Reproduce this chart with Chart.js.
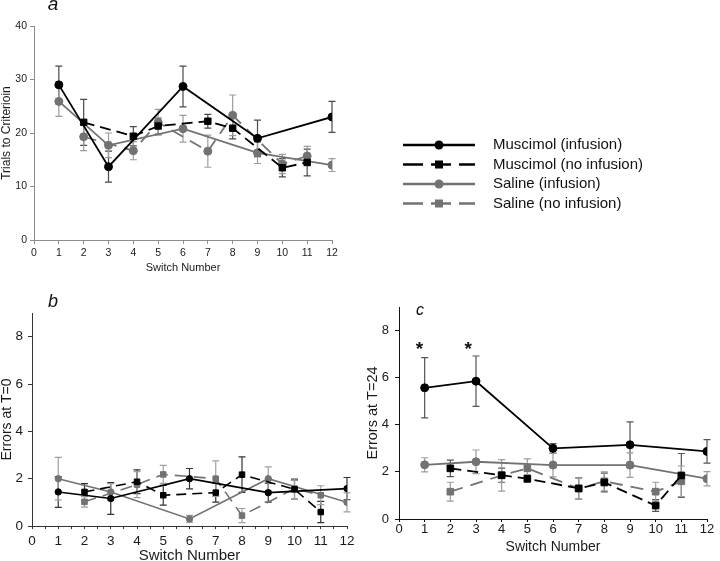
<!DOCTYPE html>
<html>
<head>
<meta charset="utf-8">
<script src="https://cdn.jsdelivr.net/npm/chart.js@4.4.1/dist/chart.umd.min.js"></script>
<style>
  body { margin: 0; background: #fff; }
  #wrap { position: relative; width: 720px; height: 561px; overflow: hidden; }
  canvas { position: absolute; }
</style>
</head>
<body>
<div id="wrap">
  <canvas id="chartA" width="720" height="290" style="left:0;top:0;width:720px;height:290px"></canvas>
  <canvas id="chartB" width="360" height="271" style="left:0;top:290px;width:360px;height:271px"></canvas>
  <canvas id="chartC" width="360" height="271" style="left:360px;top:290px;width:360px;height:271px"></canvas>
</div>
<script>
const FONT = "'Liberation Sans', Arial, sans-serif";

// switch numbers for each condition
const infusionSwitches = [1, 3, 6, 9, 12];
const noInfusionSwitches = [2, 4, 5, 7, 8, 10, 11];
const seriesNames = ['Muscimol (infusion)', 'Muscimol (no infusion)', 'Saline (infusion)', 'Saline (no infusion)'];

// panel a - trials to criterion (mean, sem)
const trialsMusInf = [29.0, 13.7, 28.7, 19.0, 23.0];
const trialsMusInfErr = [3.5, 2.9, 3.8, 3.4, 2.9];
const trialsMusNo = [22.0, 19.4, 21.3, 22.2, 20.9, 13.5, 14.5];
const trialsMusNoErr = [4.3, 1.8, 1.5, 1.3, 2.0, 1.7, 2.5];
const trialsSalInf = [25.9, 17.7, 20.8, 16.3, 14.0];
const trialsSalInfErr = [2.8, 2.3, 2.5, 2.0, 1.2];
const trialsSalNo = [19.3, 16.7, 22.0, 16.6, 23.3, 14.2, 15.7];
const trialsSalNoErr = [2.6, 1.7, 2.4, 3.0, 3.8, 1.8, 1.8];

// panel b - errors at T=0
const err0MusInf = [1.44, 1.16, 2.0, 1.41, 1.58];
const err0MusInfErr = [0.65, 0.67, 0.43, 0.4, 0.47];
const err0MusNo = [1.44, 1.87, 1.30, 1.41, 2.17, 1.55, 0.59];
const err0MusNoErr = [0.35, 0.5, 0.42, 0.4, 0.75, 0.4, 0.45];
const err0SalInf = [2.0, 1.44, 0.3, 2.0, 1.0];
const err0SalInfErr = [0.9, 0.35, 0.15, 0.5, 0.4];
const err0SalNo = [1.02, 1.75, 2.18, 2.0, 0.44, 1.58, 1.30];
const err0SalNoErr = [0.22, 0.55, 0.38, 0.75, 0.3, 0.42, 0.4];

// panel c - errors at T=24
const err24MusInf = [5.57, 5.85, 3.0, 3.15, 2.87];
const err24MusInfErr = [1.28, 1.07, 0.2, 0.97, 0.5];
const err24MusNo = [2.15, 1.86, 1.71, 1.3, 1.55, 0.57, 1.85];
const err24MusNoErr = [0.35, 0.3, 0.15, 0.45, 0.4, 0.25, 0.93];
const err24SalInf = [2.3, 2.43, 2.29, 2.29, 1.71];
const err24SalInfErr = [0.3, 0.5, 0.5, 0.52, 0.3];
const err24SalNo = [1.16, 1.85, 2.15, 1.29, 1.6, 1.16, 1.6];
const err24SalNoErr = [0.4, 0.67, 0.4, 0.45, 0.4, 0.4, 0.65];

// significance marks in panel c
const starSwitches = [0.8, 2.7];
const starLevel = 7.45;

const BLACK = '#000000';
const GRAY = '#727272';

function pts(xs, ys) {
  return xs.map((x, i) => ({ x: x, y: ys[i] }));
}

function series(label, xs, ys, errs, o) {
  return {
    label: label,
    data: pts(xs, ys),
    errors: errs,
    errColor: o.errColor,
    borderColor: o.color,
    backgroundColor: o.color,
    borderWidth: o.lw,
    borderDash: o.dash || [],
    pointStyle: o.shape,
    pointRadius: o.shape === 'rect' ? o.r * 1.3 : o.r,
    pointBorderWidth: 1,
    pointBorderColor: o.color,
    pointBackgroundColor: o.color,
    tension: 0
  };
}

// error bars drawn with the chart scales
const errorBars = {
  id: 'errorBars',
  beforeDatasetsDraw(chart) {
    const { ctx, scales: { x, y } } = chart;
    ctx.save();
    ctx.lineWidth = 1.2;
    chart.data.datasets.forEach(ds => {
      if (!ds.errors) return;
      ctx.strokeStyle = ds.errColor;
      ds.data.forEach((p, i) => {
        const e = ds.errors[i];
        const px = x.getPixelForValue(p.x);
        const top = y.getPixelForValue(p.y + e);
        const bot = y.getPixelForValue(p.y - e);
        ctx.beginPath();
        ctx.moveTo(px, top); ctx.lineTo(px, bot);
        ctx.moveTo(px - 3.5, top); ctx.lineTo(px + 3.5, top);
        ctx.moveTo(px - 3.5, bot); ctx.lineTo(px + 3.5, bot);
        ctx.stroke();
      });
    });
    ctx.restore();
  }
};

function panelLetter(letter, x, y, size) {
  return {
    id: 'letter' + letter,
    afterDraw(chart) {
      const ctx = chart.ctx;
      ctx.save();
      ctx.fillStyle = '#111';
      ctx.font = 'italic ' + size + 'px ' + FONT;
      ctx.textAlign = 'center';
      ctx.textBaseline = 'alphabetic';
      ctx.fillText(letter, x, y);
      ctx.restore();
    }
  };
}

const stars = {
  id: 'stars',
  afterDraw(chart) {
    const { ctx, scales: { x, y } } = chart;
    ctx.save();
    ctx.fillStyle = '#111';
    ctx.font = 'bold 19px ' + FONT;
    ctx.textAlign = 'center';
    ctx.textBaseline = 'alphabetic';
    starSwitches.forEach(s => {
      ctx.fillText('*', x.getPixelForValue(s), y.getPixelForValue(starLevel) + 11);
    });
    ctx.restore();
  }
};

// legend with line sample + marker, like the figure
const sideLegend = {
  id: 'sideLegend',
  afterDraw(chart) {
    const ctx = chart.ctx;
    const rows = [145, 164.5, 184, 203.5];
    const styles = [
      { color: BLACK, dash: [], shape: 'circle' },
      { color: BLACK, dash: [20, 8], shape: 'rect' },
      { color: GRAY, dash: [], shape: 'circle' },
      { color: GRAY, dash: [20, 8], shape: 'rect' }
    ];
    ctx.save();
    rows.forEach((ry, i) => {
      const st = styles[i];
      ctx.strokeStyle = st.color;
      ctx.fillStyle = st.color;
      ctx.lineWidth = 2.6;
      ctx.setLineDash(st.dash);
      ctx.beginPath();
      ctx.moveTo(403, ry); ctx.lineTo(475, ry);
      ctx.stroke();
      ctx.setLineDash([]);
      ctx.beginPath();
      if (st.shape === 'circle') {
        ctx.arc(439, ry, 4.5, 0, Math.PI * 2);
      } else {
        ctx.rect(435, ry - 4, 8, 8);
      }
      ctx.fill();
      ctx.fillStyle = '#111';
      ctx.font = '15px ' + FONT;
      ctx.textAlign = 'left';
      ctx.textBaseline = 'middle';
      ctx.fillText(seriesNames[i], 493, ry);
    });
    ctx.restore();
  }
};

function axisX(o) {
  return {
    type: 'linear', min: 0, max: 12,
    afterFit: s => { s.height = o.h; },
    ticks: {
      stepSize: o.step, autoSkip: false, maxRotation: 0, padding: o.pad, color: '#1a1a1a',
      font: { family: FONT, size: o.size },
      callback: v => Number.isInteger(v) ? String(v) : ''
    },
    grid: { drawOnChartArea: false, drawTicks: true, tickLength: o.tick, color: o.color, lineWidth: 1 },
    border: { display: true, color: o.color, width: 1 },
    title: {
      display: true, text: 'Switch Number', color: '#1a1a1a',
      font: { family: FONT, size: o.titleSize, lineHeight: 1 },
      padding: { top: 0, bottom: o.titlePad }
    }
  };
}

function axisY(o) {
  return {
    type: 'linear', min: 0, max: o.max,
    afterFit: s => { s.width = o.w; },
    ticks: {
      stepSize: o.step, includeBounds: false, padding: o.pad, color: '#1a1a1a',
      font: { family: FONT, size: o.size }
    },
    grid: { drawOnChartArea: false, drawTicks: true, tickLength: o.tick, color: o.color, lineWidth: 1 },
    border: { display: true, color: o.color, width: 1 },
    title: {
      display: true, text: o.title, color: '#1a1a1a',
      font: { family: FONT, size: o.titleSize, lineHeight: 1 },
      padding: { top: o.titlePad, bottom: 0 }
    }
  };
}

function baseOptions(padding, x, y) {
  return {
    responsive: false,
    animation: false,
    layout: { padding: padding },
    plugins: { legend: { display: false }, tooltip: { enabled: false } },
    scales: { x: x, y: y }
  };
}

// Panel a
new Chart(document.getElementById('chartA'), {
  type: 'line',
  data: {
    datasets: [
      series(seriesNames[0], infusionSwitches, trialsMusInf, trialsMusInfErr, { color: BLACK, lw: 1.8, shape: 'circle', r: 4, errColor: '#4a4a4a' }),
      series(seriesNames[1], noInfusionSwitches, trialsMusNo, trialsMusNoErr, { color: BLACK, lw: 1.8, dash: [11, 6], shape: 'rect', r: 3.5, errColor: '#4a4a4a' }),
      series(seriesNames[2], infusionSwitches, trialsSalInf, trialsSalInfErr, { color: GRAY, lw: 1.8, shape: 'circle', r: 4, errColor: '#9c9c9c' }),
      series(seriesNames[3], noInfusionSwitches, trialsSalNo, trialsSalNoErr, { color: GRAY, lw: 1.8, dash: [13, 8], shape: 'circle', r: 4, errColor: '#9c9c9c' })
    ]
  },
  options: baseOptions(
    { left: 0, top: 26, right: 388, bottom: 5 },
    axisX({ h: 45, step: 1, pad: 3, size: 10.5, tick: 4, color: '#8c8c8c', titleSize: 11, titlePad: 11.5 }),
    axisY({ max: 40, step: 10, w: 34, pad: 3, size: 10.5, tick: 4, color: '#8c8c8c', title: 'Trials to Criterioin', titleSize: 12, titlePad: 1 })
  ),
  plugins: [errorBars, panelLetter('a', 53, 10, 19), sideLegend]
});

// Panel b
new Chart(document.getElementById('chartB'), {
  type: 'line',
  data: {
    datasets: [
      series(seriesNames[0], infusionSwitches, err0MusInf, err0MusInfErr, { color: BLACK, lw: 1.6, shape: 'circle', r: 3.2, errColor: '#333' }),
      series(seriesNames[1], noInfusionSwitches, err0MusNo, err0MusNoErr, { color: BLACK, lw: 1.6, dash: [10, 6], shape: 'rect', r: 3, errColor: '#333' }),
      series(seriesNames[2], infusionSwitches, err0SalInf, err0SalInfErr, { color: GRAY, lw: 1.6, shape: 'circle', r: 3.2, errColor: '#a0a0a0' }),
      series(seriesNames[3], noInfusionSwitches, err0SalNo, err0SalNoErr, { color: GRAY, lw: 1.6, dash: [12, 7], shape: 'rect', r: 3, errColor: '#a0a0a0' })
    ]
  },
  options: baseOptions(
    { left: 0, top: 23, right: 13, bottom: 0 },
    axisX({ h: 35, step: 0.5, pad: 4, size: 13.5, tick: 3, color: '#333', titleSize: 15, titlePad: -2 }),
    axisY({ max: 9, step: 2, w: 32, pad: 5, size: 13.5, tick: 4, color: '#333', title: 'Errors at T=0', titleSize: 14, titlePad: 0 })
  ),
  plugins: [errorBars, panelLetter('b', 53, 17, 18)]
});

// Panel c
new Chart(document.getElementById('chartC'), {
  type: 'line',
  data: {
    datasets: [
      series(seriesNames[0], infusionSwitches, err24MusInf, err24MusInfErr, { color: BLACK, lw: 1.8, shape: 'circle', r: 4, errColor: '#555' }),
      series(seriesNames[1], noInfusionSwitches, err24MusNo, err24MusNoErr, { color: BLACK, lw: 1.8, dash: [11, 6], shape: 'rect', r: 3.6, errColor: '#555' }),
      series(seriesNames[2], infusionSwitches, err24SalInf, err24SalInfErr, { color: GRAY, lw: 1.8, shape: 'circle', r: 4, errColor: '#9c9c9c' }),
      series(seriesNames[3], noInfusionSwitches, err24SalNo, err24SalNoErr, { color: GRAY, lw: 1.8, dash: [13, 8], shape: 'rect', r: 3.6, errColor: '#9c9c9c' })
    ]
  },
  options: baseOptions(
    { left: 0, top: 17, right: 13, bottom: 0 },
    axisX({ h: 42, step: 1, pad: 0, size: 13, tick: 3, color: '#111', titleSize: 14, titlePad: 6.5 }),
    axisY({ max: 9, step: 2, w: 39, pad: 6, size: 13, tick: 4, color: '#111', title: 'Errors at T=24', titleSize: 14.5, titlePad: 6 })
  ),
  plugins: [errorBars, stars, panelLetter('c', 60, 25, 16)]
});
</script>
</body>
</html>
